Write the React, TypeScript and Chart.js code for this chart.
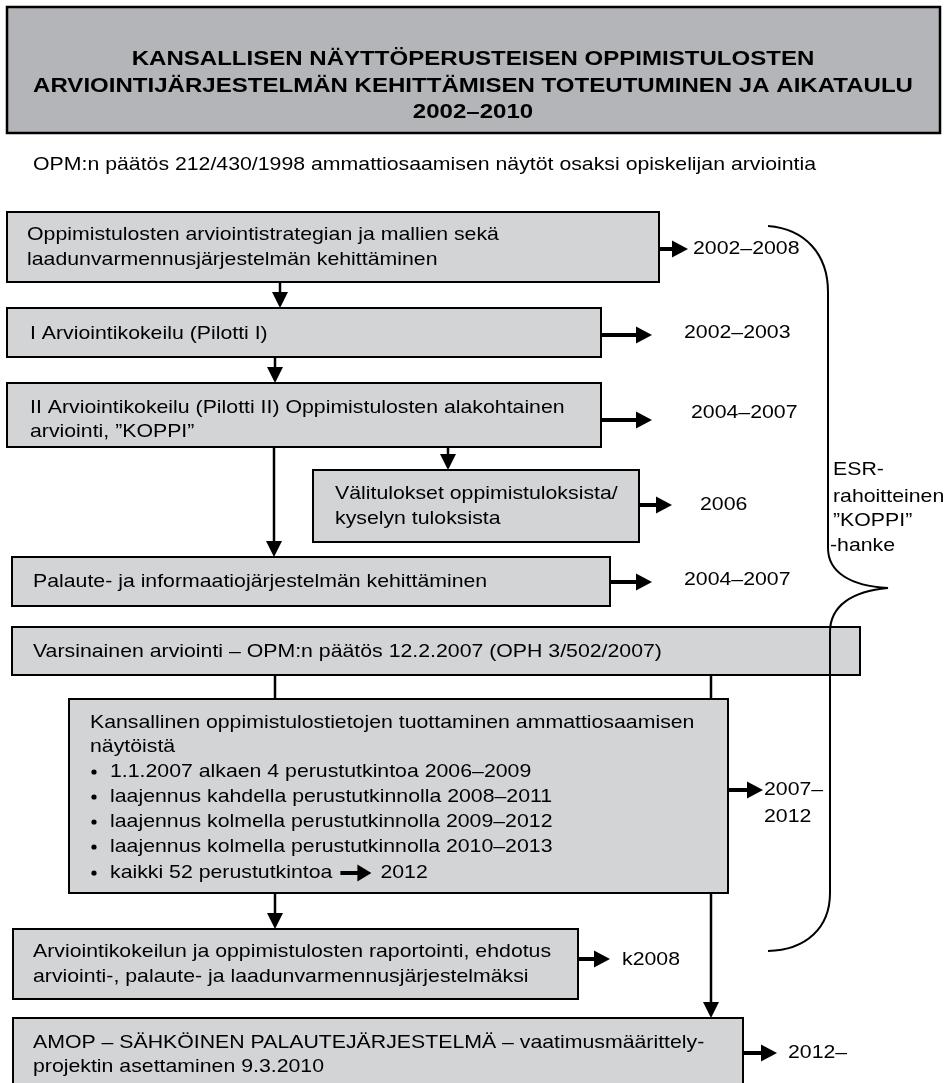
import React, { useEffect, useRef } from "react";
import { Chart, registerables } from "chart.js";

Chart.register(...registerables);

// ---------- content ----------
const TITLE_LINES = [
  "KANSALLISEN NÄYTTÖPERUSTEISEN OPPIMISTULOSTEN",
  "ARVIOINTIJÄRJESTELMÄN KEHITTÄMISEN TOTEUTUMINEN JA AIKATAULU",
  "2002–2010",
];
const DECISION_NOTE =
  "OPM:n päätös 212/430/1998 ammattiosaamisen näytöt osaksi opiskelijan arviointia";
const STEP_LABELS = [
  ["Oppimistulosten arviointistrategian ja mallien sekä", "laadunvarmennusjärjestelmän kehittäminen"],
  ["I Arviointikokeilu (Pilotti I)"],
  ["II Arviointikokeilu (Pilotti II) Oppimistulosten alakohtainen", "arviointi, ”KOPPI”"],
  ["Välitulokset oppimistuloksista/", "kyselyn tuloksista"],
  ["Palaute- ja informaatiojärjestelmän kehittäminen"],
  ["Varsinainen arviointi – OPM:n päätös 12.2.2007 (OPH 3/502/2007)"],
  ["Kansallinen oppimistulostietojen tuottaminen ammattiosaamisen", "näytöistä"],
  ["Arviointikokeilun ja oppimistulosten raportointi, ehdotus", "arviointi-, palaute- ja laadunvarmennusjärjestelmäksi"],
  ["AMOP – SÄHKÖINEN PALAUTEJÄRJESTELMÄ – vaatimusmäärittely-", "projektin asettaminen 9.3.2010"],
];
const STEP_PERIODS = [
  ["2002–2008"],
  ["2002–2003"],
  ["2004–2007"],
  ["2006"],
  ["2004–2007"],
  [],
  ["2007–", "2012"],
  ["k2008"],
  ["2012–"],
];
const NATIONAL_PHASES = [
  "1.1.2007 alkaen 4 perustutkintoa 2006–2009",
  "laajennus kahdella perustutkinnolla 2008–2011",
  "laajennus kolmella perustutkinnolla 2009–2012",
  "laajennus kolmella perustutkinnolla 2010–2013",
  "kaikki 52 perustutkintoa",
];
const FINAL_PHASE_TARGET = "2012";
const ESR_LABEL = ["ESR-", "rahoitteinen", "”KOPPI”", "-hanke"];

// ---------- layout (in scale units of the hidden axes) ----------
const PAGE_W = 947;
const PAGE_H = 1083;
const TITLE_BOX = { x0: 7, y0: 7, x1: 940, y1: 133, cx: 473, ys: [59, 86, 112] };
const NOTE_POS = { x: 33, y: 165 };
const BOX_LAYOUT = [
  { x0: 7, y0: 212, x1: 659, y1: 282, tx: 27, ty: [235, 260] },
  { x0: 7, y0: 308, x1: 601, y1: 357, tx: 30, ty: [334] },
  { x0: 7, y0: 383, x1: 601, y1: 447, tx: 30, ty: [408, 432] },
  { x0: 313, y0: 470, x1: 639, y1: 542, tx: 335, ty: [494, 519] },
  { x0: 12, y0: 557, x1: 610, y1: 606, tx: 33, ty: [582] },
  { x0: 12, y0: 627, x1: 860, y1: 675, tx: 33, ty: [652] },
  { x0: 69, y0: 699, x1: 728, y1: 893, tx: 90, ty: [723, 747] },
  { x0: 13, y0: 929, x1: 578, y1: 999, tx: 33, ty: [952, 977] },
  { x0: 13, y0: 1018, x1: 743, y1: 1100, tx: 33, ty: [1043, 1067] },
];
const PERIOD_LAYOUT = [
  { ay: 249, ax0: 659, ax1: 688, lx: 693, ly: [249] },
  { ay: 335, ax0: 601, ax1: 652, lx: 684, ly: [333] },
  { ay: 420, ax0: 601, ax1: 652, lx: 691, ly: [413] },
  { ay: 505, ax0: 639, ax1: 672, lx: 700, ly: [505] },
  { ay: 582, ax0: 610, ax1: 652, lx: 684, ly: [580] },
  null,
  { ay: 790, ax0: 728, ax1: 763, lx: 764, ly: [790, 817] },
  { ay: 959, ax0: 578, ax1: 610, lx: 622, ly: [960] },
  { ay: 1053, ax0: 743, ax1: 777, lx: 788, ly: [1053] },
];
const BULLET_LAYOUT = { bx: 94, tx: 110, ys: [772, 797, 822, 847, 873] };
const DOWN_ARROWS = [
  { x: 280, y0: 282, y1: 308 },
  { x: 275, y0: 357, y1: 383 },
  { x: 448, y0: 447, y1: 470 },
  { x: 274, y0: 447, y1: 557 },
  { x: 275, y0: 893, y1: 929 },
  { x: 711, y0: 893, y1: 1018 },
];
const PLAIN_LINKS = [
  { x: 275, y0: 675, y1: 699 },
  { x: 711, y0: 675, y1: 699 },
];
const ESR_POS = { x: 833, ys: [470, 497, 521, 546] };

// ---------- styles ----------
const FAMILY = '"Liberation Sans", Arial, Helvetica, sans-serif';
const BODY_FONT = `19px ${FAMILY}`;
const TITLE_FONT = `bold 21px ${FAMILY}`;
const BODY_STRETCH = 1.12;
const TITLE_STRETCH = 1.145;
const TITLE_FILL = "#b4b5b9";
const BOX_FILL = "#d3d4d6";
const INK = "#000000";

const flowPlugin = {
  id: "flowchart",
  afterDraw(chart: any) {
    const ctx: CanvasRenderingContext2D = chart.ctx;
    const xs = chart.scales.x;
    const ys = chart.scales.y;
    const X = (v: number) => xs.getPixelForValue(v);
    const Y = (v: number) => ys.getPixelForValue(v);

    const text = (
      s: string,
      x: number,
      y: number,
      font: string,
      align: CanvasTextAlign = "left",
      stretch = BODY_STRETCH
    ) => {
      ctx.save();
      ctx.font = font;
      ctx.fillStyle = INK;
      ctx.textBaseline = "middle";
      ctx.textAlign = align;
      ctx.translate(X(x), Y(y));
      ctx.scale(stretch, 1);
      ctx.fillText(s, 0, 0);
      ctx.restore();
    };
    const textWidth = (s: string, font: string) => {
      ctx.save();
      ctx.font = font;
      const w = ctx.measureText(s).width * BODY_STRETCH;
      ctx.restore();
      return w;
    };
    const box = (b: any, fill: string, lw = 2) => {
      const x0 = X(b.x0), x1 = X(b.x1), y0 = Y(b.y0), y1 = Y(b.y1);
      ctx.save();
      ctx.fillStyle = fill;
      ctx.fillRect(x0, y0, x1 - x0, y1 - y0);
      ctx.strokeStyle = INK;
      ctx.lineWidth = lw;
      ctx.strokeRect(x0, y0, x1 - x0, y1 - y0);
      ctx.restore();
    };
    const hArrow = (x0: number, x1: number, y: number, shaft = 4, headL = 16, headH = 17) => {
      const px0 = X(x0), px1 = X(x1), py = Y(y);
      ctx.save();
      ctx.strokeStyle = INK;
      ctx.fillStyle = INK;
      ctx.lineWidth = shaft;
      ctx.beginPath();
      ctx.moveTo(px0, py);
      ctx.lineTo(px1 - headL + 2, py);
      ctx.stroke();
      ctx.beginPath();
      ctx.moveTo(px1 - headL, py - headH / 2);
      ctx.lineTo(px1, py);
      ctx.lineTo(px1 - headL, py + headH / 2);
      ctx.closePath();
      ctx.fill();
      ctx.restore();
    };
    const vLine = (x: number, y0: number, y1: number, head: boolean) => {
      const px = X(x), py0 = Y(y0), py1 = Y(y1);
      ctx.save();
      ctx.strokeStyle = INK;
      ctx.fillStyle = INK;
      ctx.lineWidth = 2.5;
      ctx.beginPath();
      ctx.moveTo(px, py0);
      ctx.lineTo(px, head ? py1 - 12 : py1);
      ctx.stroke();
      if (head) {
        ctx.beginPath();
        ctx.moveTo(px - 8, py1 - 16);
        ctx.lineTo(px, py1);
        ctx.lineTo(px + 8, py1 - 16);
        ctx.closePath();
        ctx.fill();
      }
      ctx.restore();
    };

    // title
    box(TITLE_BOX, TITLE_FILL, 2.5);
    TITLE_LINES.forEach((s, i) =>
      text(s, TITLE_BOX.cx, TITLE_BOX.ys[i], TITLE_FONT, "center", TITLE_STRETCH)
    );
    text(DECISION_NOTE, NOTE_POS.x, NOTE_POS.y, BODY_FONT);

    // connectors
    DOWN_ARROWS.forEach((a) => vLine(a.x, a.y0, a.y1, true));
    PLAIN_LINKS.forEach((a) => vLine(a.x, a.y0, a.y1, false));

    // boxes
    STEP_LABELS.forEach((lines, i) => {
      const b = BOX_LAYOUT[i];
      box(b, BOX_FILL);
      lines.forEach((s, j) => text(s, b.tx, b.ty[j], BODY_FONT));
      const p = PERIOD_LAYOUT[i];
      if (p) {
        hArrow(p.ax0, p.ax1, p.ay);
        STEP_PERIODS[i].forEach((s, j) => text(s, p.lx, p.ly[j], BODY_FONT));
      }
    });

    // bullets of the national phase box
    NATIONAL_PHASES.forEach((s, i) => {
      const y = BULLET_LAYOUT.ys[i];
      ctx.save();
      ctx.fillStyle = INK;
      ctx.beginPath();
      ctx.arc(X(BULLET_LAYOUT.bx), Y(y), 2.6, 0, Math.PI * 2);
      ctx.fill();
      ctx.restore();
      text(s, BULLET_LAYOUT.tx, y, BODY_FONT);
      if (i === NATIONAL_PHASES.length - 1) {
        const w = textWidth(s, BODY_FONT);
        const ax0 = BULLET_LAYOUT.tx + w + 8;
        hArrow(ax0, ax0 + 31, y, 4, 14, 17);
        text(FINAL_PHASE_TARGET, ax0 + 40, y, BODY_FONT);
      }
    });

    // brace
    ctx.save();
    ctx.strokeStyle = INK;
    ctx.lineWidth = 2;
    ctx.beginPath();
    ctx.moveTo(X(768), Y(226));
    ctx.bezierCurveTo(X(806), Y(229), X(828), Y(255), X(828), Y(292));
    ctx.lineTo(X(828), Y(548));
    ctx.bezierCurveTo(X(828), Y(572), X(850), Y(586), X(888), Y(588));
    ctx.bezierCurveTo(X(852), Y(591), X(830), Y(606), X(830), Y(632));
    ctx.lineTo(X(830), Y(893));
    ctx.bezierCurveTo(X(830), Y(928), X(806), Y(950), X(768), Y(951));
    ctx.stroke();
    ctx.restore();

    ESR_LABEL.forEach((s, i) =>
      text(s, i === 3 ? ESR_POS.x - 3 : ESR_POS.x, ESR_POS.ys[i], BODY_FONT)
    );
  },
};

export default function App() {
  const ref = useRef<HTMLCanvasElement | null>(null);
  useEffect(() => {
    if (!ref.current) return;
    const chart = new Chart(ref.current, {
      type: "scatter",
      data: { datasets: [{ data: [], pointRadius: 0 }] },
      options: {
        animation: false,
        responsive: false,
        maintainAspectRatio: false,
        devicePixelRatio: 1,
        layout: { padding: 0 },
        events: [],
        plugins: { legend: { display: false }, tooltip: { enabled: false } },
        scales: {
          x: { type: "linear", min: 0, max: PAGE_W, display: false },
          y: { type: "linear", min: 0, max: PAGE_H, reverse: true, display: false },
        },
      },
      plugins: [flowPlugin],
    });
    return () => chart.destroy();
  }, []);
  return (
    <div style={{ position: "fixed", left: 0, top: 0, width: PAGE_W, height: PAGE_H, background: "#fff" }}>
      <canvas ref={ref} width={PAGE_W} height={PAGE_H} style={{ display: "block" }} />
    </div>
  );
}
